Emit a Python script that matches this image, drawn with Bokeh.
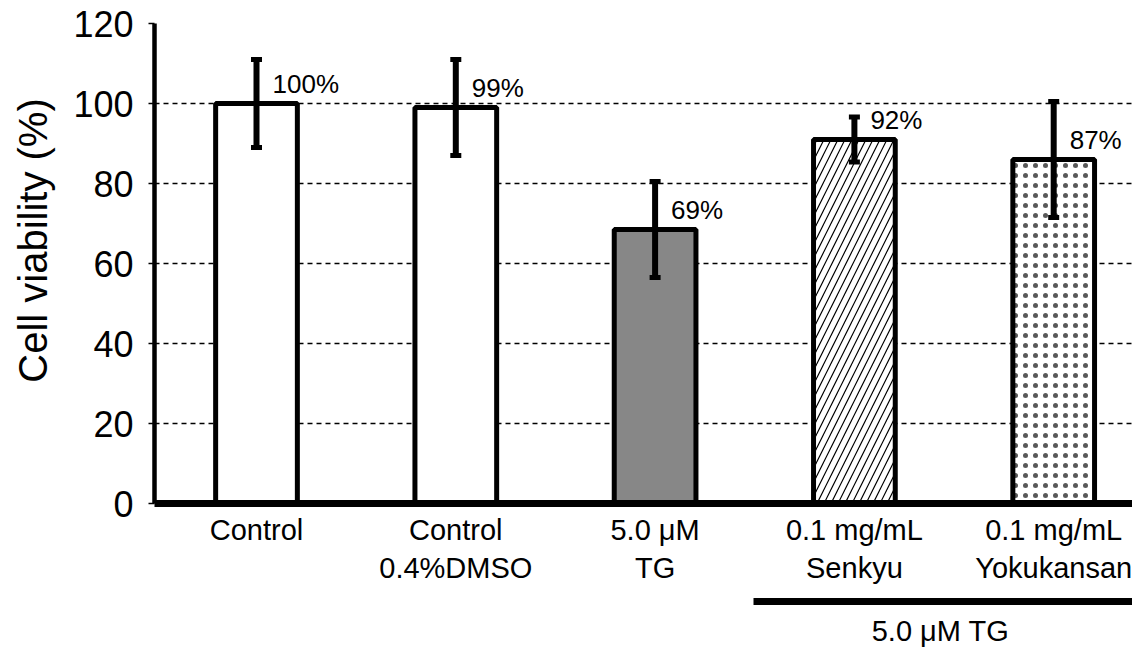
import math
from bokeh.plotting import figure
from bokeh.models import Range1d, FixedTicker, Whisker, TeeHead, ColumnDataSource, LinearAxis
from bokeh.embed import file_html
from bokeh.resources import INLINE
from bokeh.core.properties import value

# ---- data ----
line1 = ["Control", "Control", "5.0 \u03bcM", "0.1 mg/mL", "0.1 mg/mL"]
line2 = ["", "0.4%DMSO", "TG", "Senkyu", "Yokukansan"]
viability = [100, 99, 68.5, 91, 86]
err = [11, 12, 12, 5.6, 14.5]
pct_labels = ["100%", "99%", "69%", "92%", "87%"]
fills = ["white", "white", "#878787", "white", "white"]
hatches = [" ", " ", " ", "/", "."]
hatch_scales = [1, 1, 1, 14, 10]
hatch_weights = [1, 1, 1, 1.2, 0.5]
hatch_alphas = [1, 1, 1, 1, 0.65]
bracket_label = "5.0 \u03bcM TG"
y_label = "Cell viability (%)"
y_ticks = [0, 20, 40, 60, 80, 100, 120]

FONT = "Liberation Sans"

xs = list(range(len(viability)))
src = ColumnDataSource(dict(
    x=xs, top=viability, fill=fills, hatch=hatches, hscale=hatch_scales, hweight=hatch_weights,
    halpha=hatch_alphas,
    upper=[v + e for v, e in zip(viability, err)],
    lower=[v - e for v, e in zip(viability, err)],
    lab=pct_labels,
))

p = figure(frame_width=978, frame_height=480, output_backend="svg", toolbar_location=None,
           x_range=Range1d(-0.5118, 4.3954), y_range=Range1d(0, 120),
           min_border_left=154, min_border_right=0, min_border_top=23, min_border_bottom=130)
p.outline_line_color = None
p.background_fill_color = "white"
p.border_fill_color = "white"

# grid
p.xgrid.visible = False
p.ygrid.ticker = FixedTicker(ticks=y_ticks)
p.ygrid.grid_line_color = "black"
p.ygrid.grid_line_dash = "5 4"
p.ygrid.grid_line_width = 1.3

# y axis
ya = p.yaxis[0]
ya.ticker = FixedTicker(ticks=y_ticks)
ya.axis_line_width = 4.5
ya.axis_line_color = "black"
ya.major_tick_out = 6
ya.major_tick_in = 0
ya.major_tick_line_width = 1.5
ya.minor_tick_line_color = None
ya.major_label_text_font = FONT
ya.major_label_text_font_size = "36px"
ya.major_label_text_color = "black"
ya.major_label_standoff = 15

# y axis title (as the single tick label of an outer axis)
title_pos = 65.75
ta = LinearAxis(ticker=FixedTicker(ticks=[title_pos]),
                major_label_overrides={title_pos: y_label},
                major_label_orientation="parallel",
                axis_line_color=None, major_tick_line_color=None, minor_tick_line_color=None,
                major_tick_out=0, major_tick_in=0, major_label_standoff=16,
                major_label_text_font=FONT, major_label_text_font_size="40px",
                major_label_text_color="black")
p.add_layout(ta, "left")

# x axis with category labels
xa = p.xaxis[0]
xa.ticker = FixedTicker(ticks=xs)
xa.major_label_overrides = {i: (line1[i] + "\n" + line2[i]) if line2[i] else line1[i] for i in xs}
xa.axis_line_width = 7
xa.axis_line_color = "black"
xa.major_tick_line_color = None
xa.minor_tick_line_color = None
xa.major_tick_out = 0
xa.major_tick_in = 0
xa.major_label_standoff = 10
xa.major_label_text_font = FONT
xa.major_label_text_font_size = "29px"
xa.major_label_text_color = "black"
xa.axis_label = " "
xa.axis_label_text_font_size = "10px"
xa.axis_label_standoff = 1

# bracket under the TG-treated groups
bracket_pos = 3.432
ba = LinearAxis(bounds=(2.494, 4.40), ticker=FixedTicker(ticks=[bracket_pos]),
                major_label_overrides={bracket_pos: bracket_label},
                axis_line_width=7, axis_line_color="black",
                major_tick_line_color=None, minor_tick_line_color=None,
                major_tick_out=0, major_tick_in=0, major_label_standoff=13,
                major_label_text_font=FONT, major_label_text_font_size="29px",
                major_label_text_color="black")
p.add_layout(ba, "below")

# bars
p.vbar(x="x", top="top", bottom=0, width=0.41, source=src,
       fill_color="fill", line_color="black", line_width=5,
       hatch_pattern="hatch", hatch_color="black", hatch_scale="hscale",
       hatch_weight="hweight", hatch_alpha="halpha")

# error bars
p.add_layout(Whisker(base="x", upper="upper", lower="lower", source=src,
                     line_width=6, line_color="black", level="overlay",
                     upper_head=TeeHead(size=11, line_width=5, line_color="black"),
                     lower_head=TeeHead(size=11, line_width=5, line_color="black")))

# percentage labels
p.text(x="x", y="top", text="lab", source=src, x_offset=16, y_offset=-20,
       text_align="left", text_baseline="middle", text_font=value(FONT),
       text_font_size="26px", text_color="black")

open("out.html", "w").write(file_html(p, INLINE))
